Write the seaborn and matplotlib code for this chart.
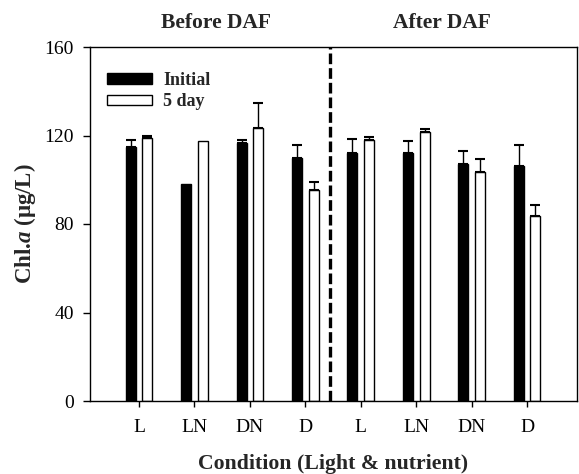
import numpy as np
import pandas as pd
import matplotlib
matplotlib.use("Agg")
import matplotlib.pyplot as plt
import seaborn as sns
from matplotlib.patches import Patch

sns.set_style("ticks")
plt.rcParams['font.family'] = ['Liberation Serif', 'DejaVu Serif']
plt.rcParams['mathtext.fontset'] = 'custom'
plt.rcParams['mathtext.rm'] = 'Liberation Serif:bold'
plt.rcParams['mathtext.it'] = 'Liberation Serif:bold:italic'
plt.rcParams['mathtext.bf'] = 'Liberation Serif:bold'

# ---- data ----
conditions = ["L", "LN", "DN", "D", "L", "LN", "DN", "D"]
group_ids = ["B-L", "B-LN", "B-DN", "B-D", "A-L", "A-LN", "A-DN", "A-D"]
initial = [115, 98, 116.7, 110, 112, 112, 107, 106]
initial_err = [3, 0, 1.3, 5.5, 6.5, 5.7, 6, 9.5]
day5 = [118.7, 117.5, 123.2, 95.4, 118, 121.7, 103.4, 83.8]
day5_err = [1, 0, 11.3, 3.4, 1.2, 1.3, 5.8, 4.9]
series = ["Initial", "5 day"]
panel_titles = ["Before DAF", "After DAF"]
yticks = [0, 40, 80, 120, 160]

df = pd.DataFrame({
    "group": group_ids * 2,
    "series": [series[0]] * 8 + [series[1]] * 8,
    "value": initial + day5,
    "err": initial_err + day5_err,
})

fig = plt.figure(figsize=(5.79, 4.74), dpi=100)
ax = fig.add_axes([90 / 579, 1 - 401 / 474, 487 / 579, 354 / 474])

sns.barplot(data=df, x="group", y="value", hue="series", order=group_ids,
            hue_order=series, palette={"Initial": "black", "5 day": "white"},
            edgecolor="black", linewidth=1.0, width=0.6, gap=0.4,
            errorbar=None, legend=False, ax=ax)

# error bars (upper only), positioned from the drawn bars
bars = [p for p in ax.patches if p.get_width() > 0]
for p, (_, row) in zip(bars, df.iterrows()):
    if row["err"] <= 0:
        continue
    xc = p.get_x() + p.get_width() / 2
    ax.errorbar([xc], [row["value"]], yerr=[[0], [row["err"]]], fmt="none",
                ecolor="black", elinewidth=1.0, capsize=3.3, capthick=1.5)

ax.set_xlim(-0.885, 7.9)
ax.set_ylim(0, 160)
ax.set_yticks(yticks)
ax.set_xticks(range(len(conditions)))
ax.set_xticklabels(conditions)
ax.tick_params(axis="x", direction="out", length=4, width=1, labelsize=14,
               colors="black", pad=9)
ax.tick_params(axis="y", direction="out", length=5, width=1, labelsize=14,
               colors="black", pad=6.5)
for s in ax.spines.values():
    s.set_visible(True)
    s.set_linewidth(1.0)
    s.set_color("black")

ax.axvline(3.45, color="black", linewidth=2.4, linestyle=(0, (3.2, 1.2)))

ax.set_xlabel("Condition (Light & nutrient)", fontsize=15.7, fontweight="bold", labelpad=13)
ax.set_ylabel(r"Chl.$\mathit{a}$ (μg/L)", fontsize=16.5, fontweight="bold", labelpad=5)

ax.text(1.39, 1.04, panel_titles[0], transform=ax.get_xaxis_transform(),
        ha="center", va="bottom", fontsize=15.5, fontweight="bold")
ax.text(5.46, 1.04, panel_titles[1], transform=ax.get_xaxis_transform(),
        ha="center", va="bottom", fontsize=15.5, fontweight="bold")

handles = [Patch(facecolor="black", edgecolor="black", label=series[0]),
           Patch(facecolor="white", edgecolor="black", label=series[1])]
ax.legend(handles=handles, loc="upper left", bbox_to_anchor=(0.02, 0.95),
          frameon=False, prop={"weight": "bold", "size": 13},
          handlelength=2.5, handleheight=0.5, handletextpad=0.6,
          labelspacing=0.25, borderaxespad=0)

fig.savefig("out.png", dpi=100)
